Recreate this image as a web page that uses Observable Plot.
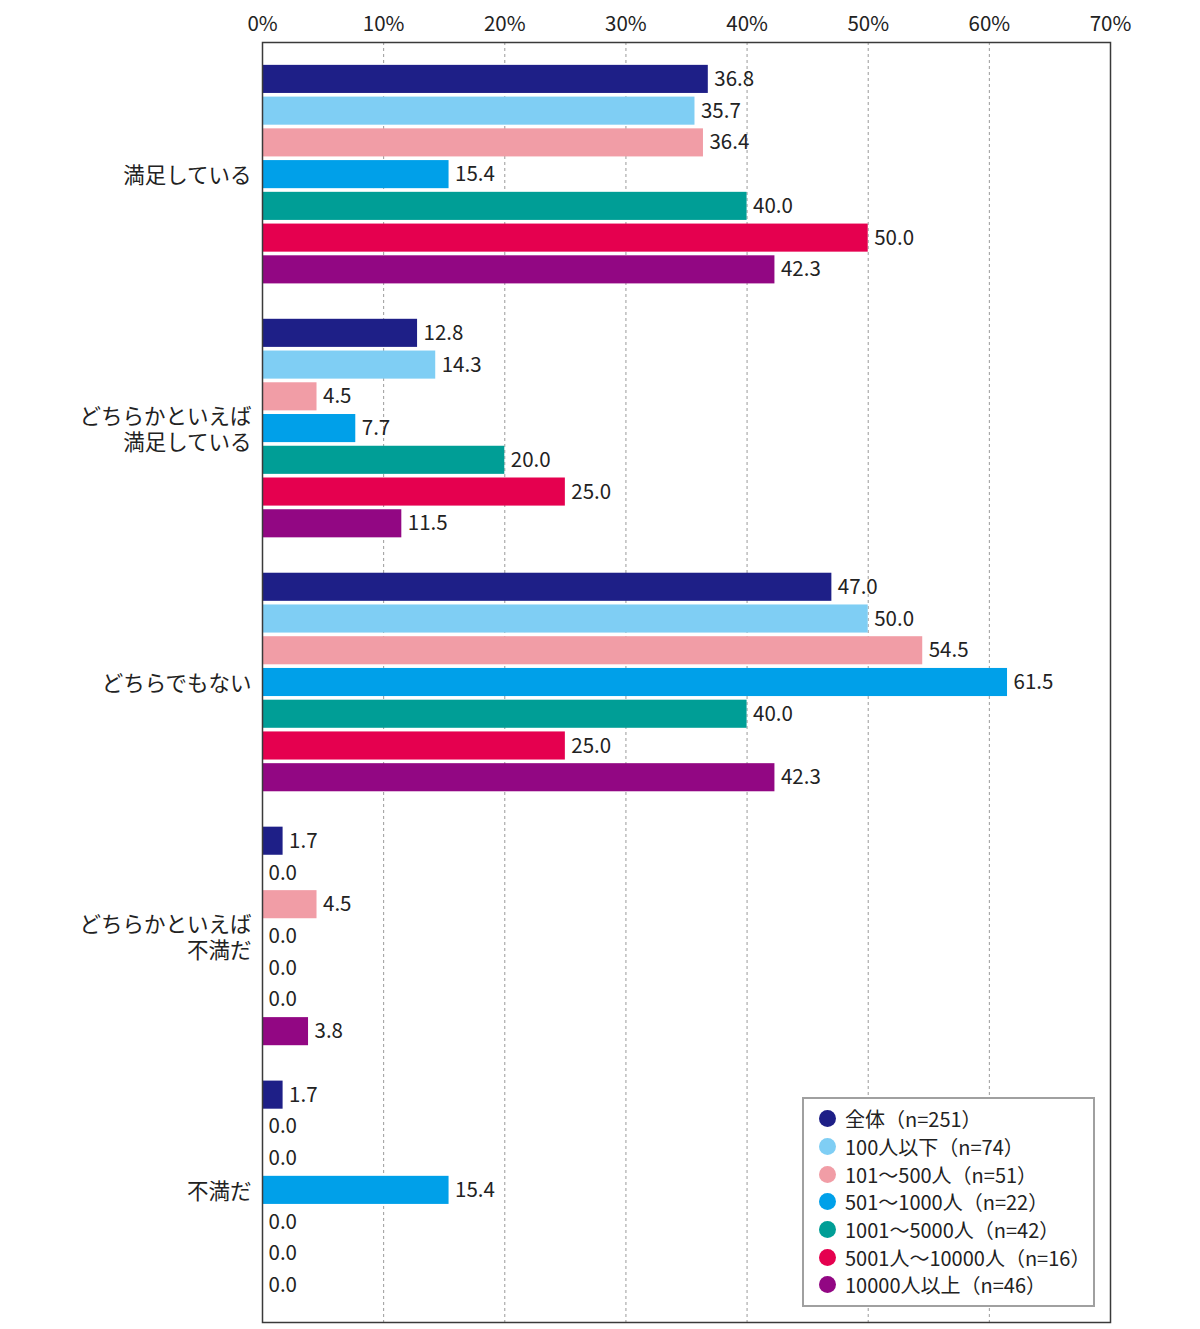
<!DOCTYPE html>
<html>
<head>
<meta charset="utf-8">
<script src="https://cdn.jsdelivr.net/npm/d3@7"></script>
<script src="https://cdn.jsdelivr.net/npm/@observablehq/plot@0.6"></script>
<style>
  html, body { margin: 0; padding: 0; background: #fff; }
  #wrap { position: relative; width: 1200px; height: 1329px; font-family: "Noto Sans CJK JP", "Noto Sans", sans-serif; }
  #legend { position: absolute; left: 802px; top: 1097px; width: 293px; height: 210px; border: 2px solid #a0a0a0; background: #fff; box-sizing: border-box; padding: 6px 0 0 15px; }
  .item { display: flex; align-items: center; height: 27.7px; font-size: 20px; color: #222; white-space: nowrap; }
  .dot { width: 17px; height: 17px; border-radius: 50%; margin-right: 9px; flex: none; }
</style>
</head>
<body>
<div id="wrap"><div id="chart"></div><div id="legend"></div></div>
<script>
// ---- data ----
const questions = ["満足している", "どちらかといえば\n満足している", "どちらでもない", "どちらかといえば\n不満だ", "不満だ"];
const series = ["全体（n=251）", "100人以下（n=74）", "101～500人（n=51）", "501～1000人（n=22）", "1001～5000人（n=42）", "5001人～10000人（n=16）", "10000人以上（n=46）"];
const colors = ["#1e1f87", "#7fcef4", "#f19da6", "#00a0e9", "#009e96", "#e5004f", "#920783"];
const satisfied = [36.8, 35.7, 36.4, 15.4, 40.0, 50.0, 42.3];
const ratherSatisfied = [12.8, 14.3, 4.5, 7.7, 20.0, 25.0, 11.5];
const neither = [47.0, 50.0, 54.5, 61.5, 40.0, 25.0, 42.3];
const ratherDissatisfied = [1.7, 0.0, 4.5, 0.0, 0.0, 0.0, 3.8];
const dissatisfied = [1.7, 0.0, 0.0, 15.4, 0.0, 0.0, 0.0];
const xTicks = [0, 10, 20, 30, 40, 50, 60, 70];
const gridTicks = [10, 20, 30, 40, 50, 60];

const valueSets = [satisfied, ratherSatisfied, neither, ratherDissatisfied, dissatisfied];
const rows = [];
const yDomain = [];
questions.forEach((q, qi) => {
  series.forEach((s, si) => {
    const key = qi + "-" + si;
    yDomain.push(key);
    rows.push({question: q, series: s, key, value: valueSets[qi][si]});
  });
  if (qi < questions.length - 1) yDomain.push("gap-" + qi);
});
const labelRows = questions.map((q, qi) => ({question: q, key: qi + "-3"}));

const chart = Plot.plot({
  width: 1200,
  height: 1329,
  marginTop: 42,
  marginBottom: 7,
  marginLeft: 262,
  marginRight: 90,
  style: {fontFamily: '"Noto Sans CJK JP", "Noto Sans", sans-serif', color: "#222", background: "transparent"},
  x: {domain: [0, 70], axis: "top", ticks: xTicks, tickFormat: d => d + "%", tickSize: 0, tickPadding: 12, label: null, fontSize: 20.5},
  y: {domain: yDomain, axis: null, paddingInner: 0.115, paddingOuter: 0.72, round: false},
  color: {domain: series, range: colors},
  marks: [
    Plot.ruleX(gridTicks, {stroke: "#9a9a9a", strokeWidth: 1, strokeDasharray: "3,3"}),
    Plot.barX(rows, {x: "value", y: "key", fill: "series"}),
    Plot.text(rows, {x: "value", y: "key", text: d => d.value.toFixed(1), textAnchor: "start", dx: 6, fontSize: 20.5, fill: "#222"}),
    Plot.text(labelRows, {x: 0, y: "key", text: "question", textAnchor: "end", dx: -11, fontSize: 21.5, lineHeight: 1.22, fill: "#222"}),
    Plot.frame({stroke: "#3a3a3a", strokeWidth: 1.5})
  ]
});
document.getElementById("chart").appendChild(chart);
chart.querySelectorAll('[aria-label="x-axis tick label"] text').forEach(t => t.setAttribute("font-size", 20.5));

const legend = document.getElementById("legend");
series.forEach((s, i) => {
  const item = document.createElement("div");
  item.className = "item";
  const dot = document.createElement("span");
  dot.className = "dot";
  dot.style.background = colors[i];
  const label = document.createElement("span");
  label.textContent = s;
  item.appendChild(dot);
  item.appendChild(label);
  legend.appendChild(item);
});
</script>
</body>
</html>
